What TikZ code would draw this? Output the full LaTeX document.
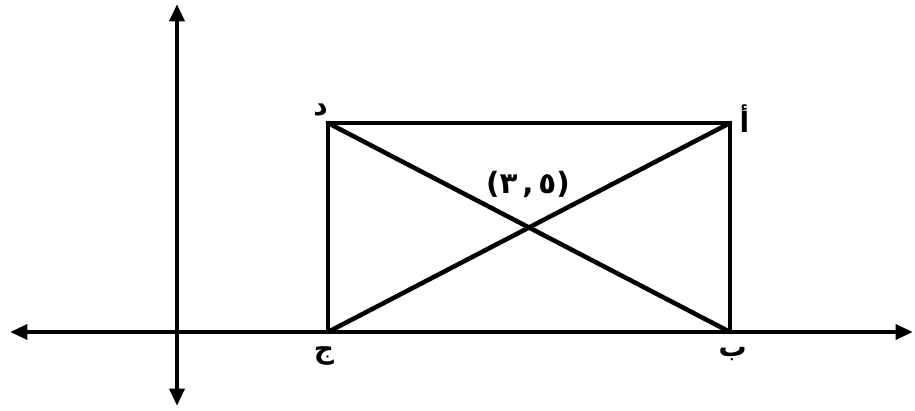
\documentclass[tikz,border=0pt]{standalone}
\usepackage{fontspec}
\usetikzlibrary{arrows.meta,positioning}
\newfontfamily\arabicfont[Script=Arabic]{DejaVu Sans}
\newfontfamily\plainfont{DejaVu Sans}
\TeXXeTstate=1

\begin{document}
\begin{tikzpicture}[x=0.75pt,y=-0.75pt,node distance=2pt]
    \tikzset{ax/.style={line width=3.4pt,{Triangle[length=13pt,width=11pt]}-{Triangle[length=13pt,width=11pt]}},
      edge/.style={line width=3.4pt,line cap=round},
      lbl/.style={inner sep=0pt,font=\arabicfont\bfseries\fontsize{21}{24}\selectfont}}
    \useasboundingbox (0,0) rectangle (915,411);
    % axes
    \coordinate (xl) at (10,332);
    \coordinate (xr) at (913,332);
    \coordinate (yt) at (177,4);
    \coordinate (yb) at (177,406);
    \draw[ax] (xl) -- (xr);
    \draw[ax] (yb) -- (yt);
    % rectangle corners
    \coordinate (A) at (730,123);
    \coordinate (B) at (730,332);
    \coordinate (C) at (328,332);
    \coordinate (D) at (328,123);
    \draw[edge] (A) -- (D) -- (C) -- (B) -- cycle;
    \draw[edge] (D) -- (B);
    \draw[edge] (C) -- (A);
    \node[lbl,above left=5pt and 0pt of D] (d) {\beginR د\endR};
    \node[lbl,right=7pt of A,yshift=3pt] (a) {\beginR أ\endR};
    \node[lbl,below=11pt of C,xshift=-3pt] (c) {\beginR ج\endR};
    \node[lbl,below=11pt of B,xshift=2pt] (b) {\beginR ب\endR};
    \node[font=\bfseries\fontsize{22}{26}\selectfont] (m) at (528,184)
      {{\plainfont(}{\arabicfont ٣}\,{\plainfont,}\,{\arabicfont ٥}{\plainfont)}};
  \end{tikzpicture}
\end{document}
